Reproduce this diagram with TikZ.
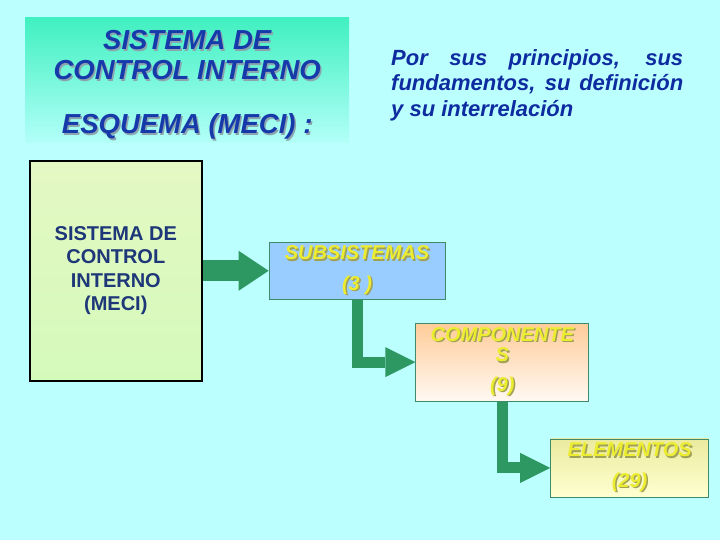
\documentclass[tikz,border=0pt]{standalone}
\usepackage{fontspec}
\setmainfont{Liberation Sans}
\usepackage{xcolor}
\definecolor{bgcyan}{RGB}{188,255,255}
\definecolor{titletop}{RGB}{64,240,192}
\definecolor{titlebot}{RGB}{178,255,248}
\definecolor{titleblue}{RGB}{22,58,170}
\definecolor{titleshadow}{RGB}{140,165,175}
\definecolor{textblue}{RGB}{14,44,160}
\definecolor{navy}{RGB}{30,55,120}
\definecolor{arrowgreen}{RGB}{46,152,98}
\definecolor{boxedge}{RGB}{64,138,108}
\definecolor{lbltxt}{RGB}{236,236,48}
\definecolor{lblshadow}{RGB}{160,160,86}
\definecolor{subblue}{RGB}{153,204,255}
\definecolor{mecitop}{RGB}{228,248,196}
\definecolor{mecimid}{RGB}{242,255,212}
\definecolor{mecibot}{RGB}{212,250,186}
\usetikzlibrary{arrows.meta,positioning}
\newcommand\shad[2]{\makebox[0pt][l]{\hspace{1.5pt}\raisebox{-1.5pt}{\textcolor{#1}{#2}}}#2}
\tikzset{
  level/.style={draw=boxedge,line width=0.8pt,inner sep=0pt,align=center,%
    text=lbltxt,font=\fontsize{20}{20.5}\selectfont\bfseries\itshape},
  bigflow/.style={draw=arrowgreen,line width=21pt,%
    -{Triangle[length=30pt,width=40pt,line width=0pt]}},
  flow/.style={draw=arrowgreen,line width=11pt,line join=miter,%
    -{Triangle[length=30pt,width=30pt,line width=0pt]}},
}

\begin{document}
\begin{tikzpicture}[x=1pt,y=1pt]
\fill[bgcyan] (0,0) rectangle (720,-540);
\node[anchor=north west,minimum width=324pt,minimum height=125pt,inner sep=0pt,%
  top color=titletop,bottom color=titlebot,align=center,text=titleblue,%
  font=\fontsize{27.5}{30}\selectfont\bfseries\itshape] (title) at (25,-17)
  {\rule{0pt}{31pt}\shad{titleshadow}{SISTEMA DE}\\\shad{titleshadow}{CONTROL INTERNO}\\[24pt]%
   \shad{titleshadow}{ESQUEMA (MECI) :}};
\node[anchor=north west,text width=292pt,align=justify,inner sep=0pt,text=textblue,%
  font=\fontsize{22}{25.5}\selectfont\bfseries\itshape] (why) at (391,-49)
  {Por sus principios, sus\linebreak fundamentos, su definición\linebreak y su interrelación};
\node[anchor=north west,draw=black,line width=1.6pt,minimum width=172pt,minimum height=220pt,%
  inner sep=0pt,top color=mecitop,middle color=mecimid,bottom color=mecibot,%
  align=center,text=navy,font=\fontsize{20}{23.5}\selectfont\bfseries] (meci) at (29,-160)
  {SISTEMA DE\\CONTROL\\INTERNO\\(MECI)};
\node[level,fill=subblue,minimum width=176pt,minimum height=57pt,right=66pt of meci] (sub)
  {\shad{lblshadow}{SUBSISTEMAS}\\[10pt]\shad{lblshadow}{(3 )}};
\node[level,top color=orange!40!white,bottom color=orange!5!white,minimum width=173pt,%
  minimum height=78pt,below right=23pt and -30pt of sub] (comp)
  {\shad{lblshadow}{COMPONENTE}\\\shad{lblshadow}{S}\\[9pt]\shad{lblshadow}{(9)}};
\node[level,top color=yellow!32!white!92!black,bottom color=yellow!18,minimum width=158pt,%
  minimum height=58pt,below right=37pt and -39pt of comp] (elem)
  {\shad{lblshadow}{ELEMENTOS}\\[10pt]\shad{lblshadow}{(29)}};
\draw[bigflow] (meci) -- (sub);
\draw[flow] (sub.south) |- (comp.west);
\draw[flow] (comp.south) |- (elem.west);
\end{tikzpicture}
\end{document}
